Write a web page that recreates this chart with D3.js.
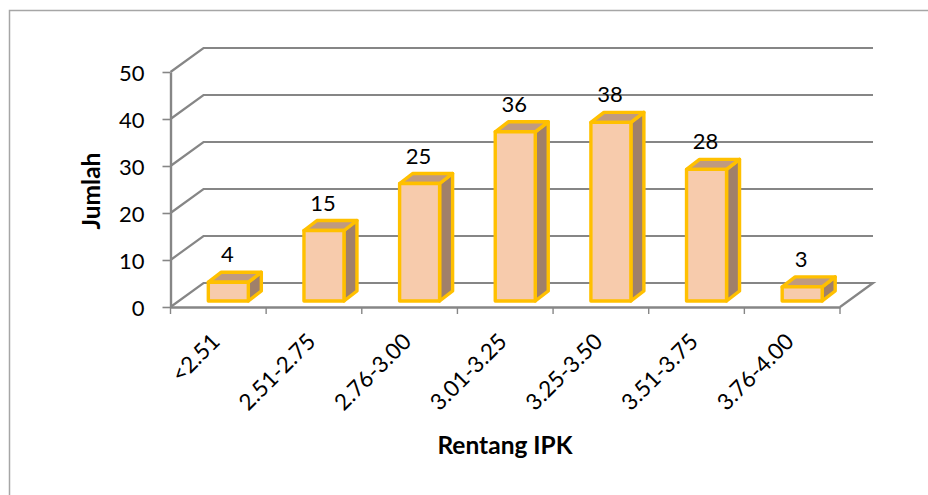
<!DOCTYPE html>
<html>
<head>
<meta charset="utf-8">
<script src="https://cdn.jsdelivr.net/npm/d3@7"></script>
<style>
  html, body { margin: 0; padding: 0; background: #fff; }
  svg { display: block; }
  text { font-family: Lato, "Open Sans", sans-serif; fill: #000; }
</style>
</head>
<body>
<div id="graph"></div>
<script>
var categories = ["<2.51", "2.51-2.75", "2.76-3.00", "3.01-3.25", "3.25-3.50", "3.51-3.75", "3.76-4.00"];
var values = [4, 15, 25, 36, 38, 28, 3];
var yTicks = [0, 10, 20, 30, 40, 50];

var width = 928, height = 495;
var axisColor = "#868686";

// front edge of the 3d box, the back wall sits depth px away
var left = 170.5, right = 840, bottom = 307, top_ = 72;
var depth = { x: 33, y: -24 };
var barDepth = { x: 13, y: -10 };
var barOffset = { x: 10, y: -6 };

var svg = d3.select("#graph").append("svg")
  .attr("width", width)
  .attr("height", height);

// only the top and left edges of the frame show
svg.append("path")
  .attr("d", d3.line()([[9.5, height], [9.5, 10.5], [width, 10.5]]))
  .attr("fill", "none")
  .attr("stroke", "#a6a6a6")
  .attr("stroke-width", 1.5);

var x = d3.scaleBand().domain(categories).range([left, right]);
var y = d3.scaleLinear().domain([0, 50]).range([bottom, top_]);

// walls
var walls = svg.append("g");
yTicks.forEach(function (t) {
  var points = [[left, y(t)], [left + depth.x, y(t) + depth.y], [right + depth.x, y(t) + depth.y]];
  if (t === 0) points.push([right, y(t)]);
  walls.append("path")
    .attr("d", d3.line()(points))
    .attr("fill", "none")
    .attr("stroke", axisColor)
    .attr("stroke-width", 2.2);
});

// axes
var yAxis = svg.append("g")
  .attr("transform", "translate(" + left + ",0)")
  .call(d3.axisLeft(y).tickValues(yTicks).tickSize(8).tickSizeOuter(0).tickPadding(18));
var xAxis = svg.append("g")
  .attr("transform", "translate(0," + bottom + ")")
  .call(d3.axisBottom(x).tickSize(0).tickFormat(""));

[yAxis, xAxis].forEach(function (a) {
  a.selectAll(".domain").attr("stroke", axisColor).attr("stroke-width", 2.4);
  a.selectAll(".tick line").attr("stroke", axisColor).attr("stroke-width", 1.6);
});

yAxis.selectAll("text")
  .attr("dy", "0.4em")
  .style("font-size", "22px")
  .style("fill", "#000");

// tick marks of the band axis sit between the categories
xAxis.selectAll(".edge")
  .data(categories.map(function (c) { return x(c); }).concat([right]))
  .enter().append("line")
  .attr("x1", function (d) { return d; })
  .attr("x2", function (d) { return d; })
  .attr("y1", 0).attr("y2", 7)
  .attr("stroke", axisColor)
  .attr("stroke-width", 1.4);

// rotated category labels
svg.append("g").selectAll("text")
  .data(categories)
  .enter().append("text")
  .attr("text-anchor", "end")
  .attr("transform", function (d) {
    return "translate(" + (x(d) + x.bandwidth() / 2 + 3) + "," + (bottom + 36) + ") rotate(-45)";
  })
  .style("font-size", "22.5px")
  .text(function (d) { return d; });

// bars
var barW = 40;
var bars = svg.append("g").selectAll("g")
  .data(values)
  .enter().append("g")
  .attr("transform", function (d, i) {
    var cx = x(categories[i]) + x.bandwidth() / 2 + barOffset.x;
    return "translate(" + (cx - barW / 2) + "," + barOffset.y + ")";
  });

var barStyle = function (sel, fill) {
  sel.attr("fill", fill)
    .attr("stroke", "#ffc000")
    .attr("stroke-width", 3.4)
    .attr("stroke-linejoin", "round");
};

// side
bars.append("path")
  .attr("d", function (d) {
    return d3.line()([[barW, y(d)], [barW + barDepth.x, y(d) + barDepth.y], [barW + barDepth.x, y(0) + barDepth.y], [barW, y(0)]]) + "Z";
  })
  .call(barStyle, "#a0806a");
// top
bars.append("path")
  .attr("d", function (d) {
    return d3.line()([[0, y(d)], [barDepth.x, y(d) + barDepth.y], [barW + barDepth.x, y(d) + barDepth.y], [barW, y(d)]]) + "Z";
  })
  .call(barStyle, "#bf9a80");
// front
bars.append("rect")
  .attr("x", 0)
  .attr("y", function (d) { return y(d); })
  .attr("width", barW)
  .attr("height", function (d) { return y(0) - y(d); })
  .call(barStyle, "#f7cbac");

// value labels
bars.append("text")
  .attr("x", barW / 2 - 1)
  .attr("y", function (d) { return y(d) - 20; })
  .attr("text-anchor", "middle")
  .style("font-size", "22px")
  .text(function (d) { return d; });

// axis titles
svg.append("text")
  .attr("text-anchor", "middle")
  .attr("transform", "translate(100,191) rotate(-90)")
  .style("font-size", "24.5px")
  .style("font-weight", "bold")
  .text("Jumlah");

svg.append("text")
  .attr("x", 505).attr("y", 454)
  .attr("text-anchor", "middle")
  .style("font-size", "24.5px")
  .style("font-weight", "bold")
  .text("Rentang IPK");
</script>
</body>
</html>
